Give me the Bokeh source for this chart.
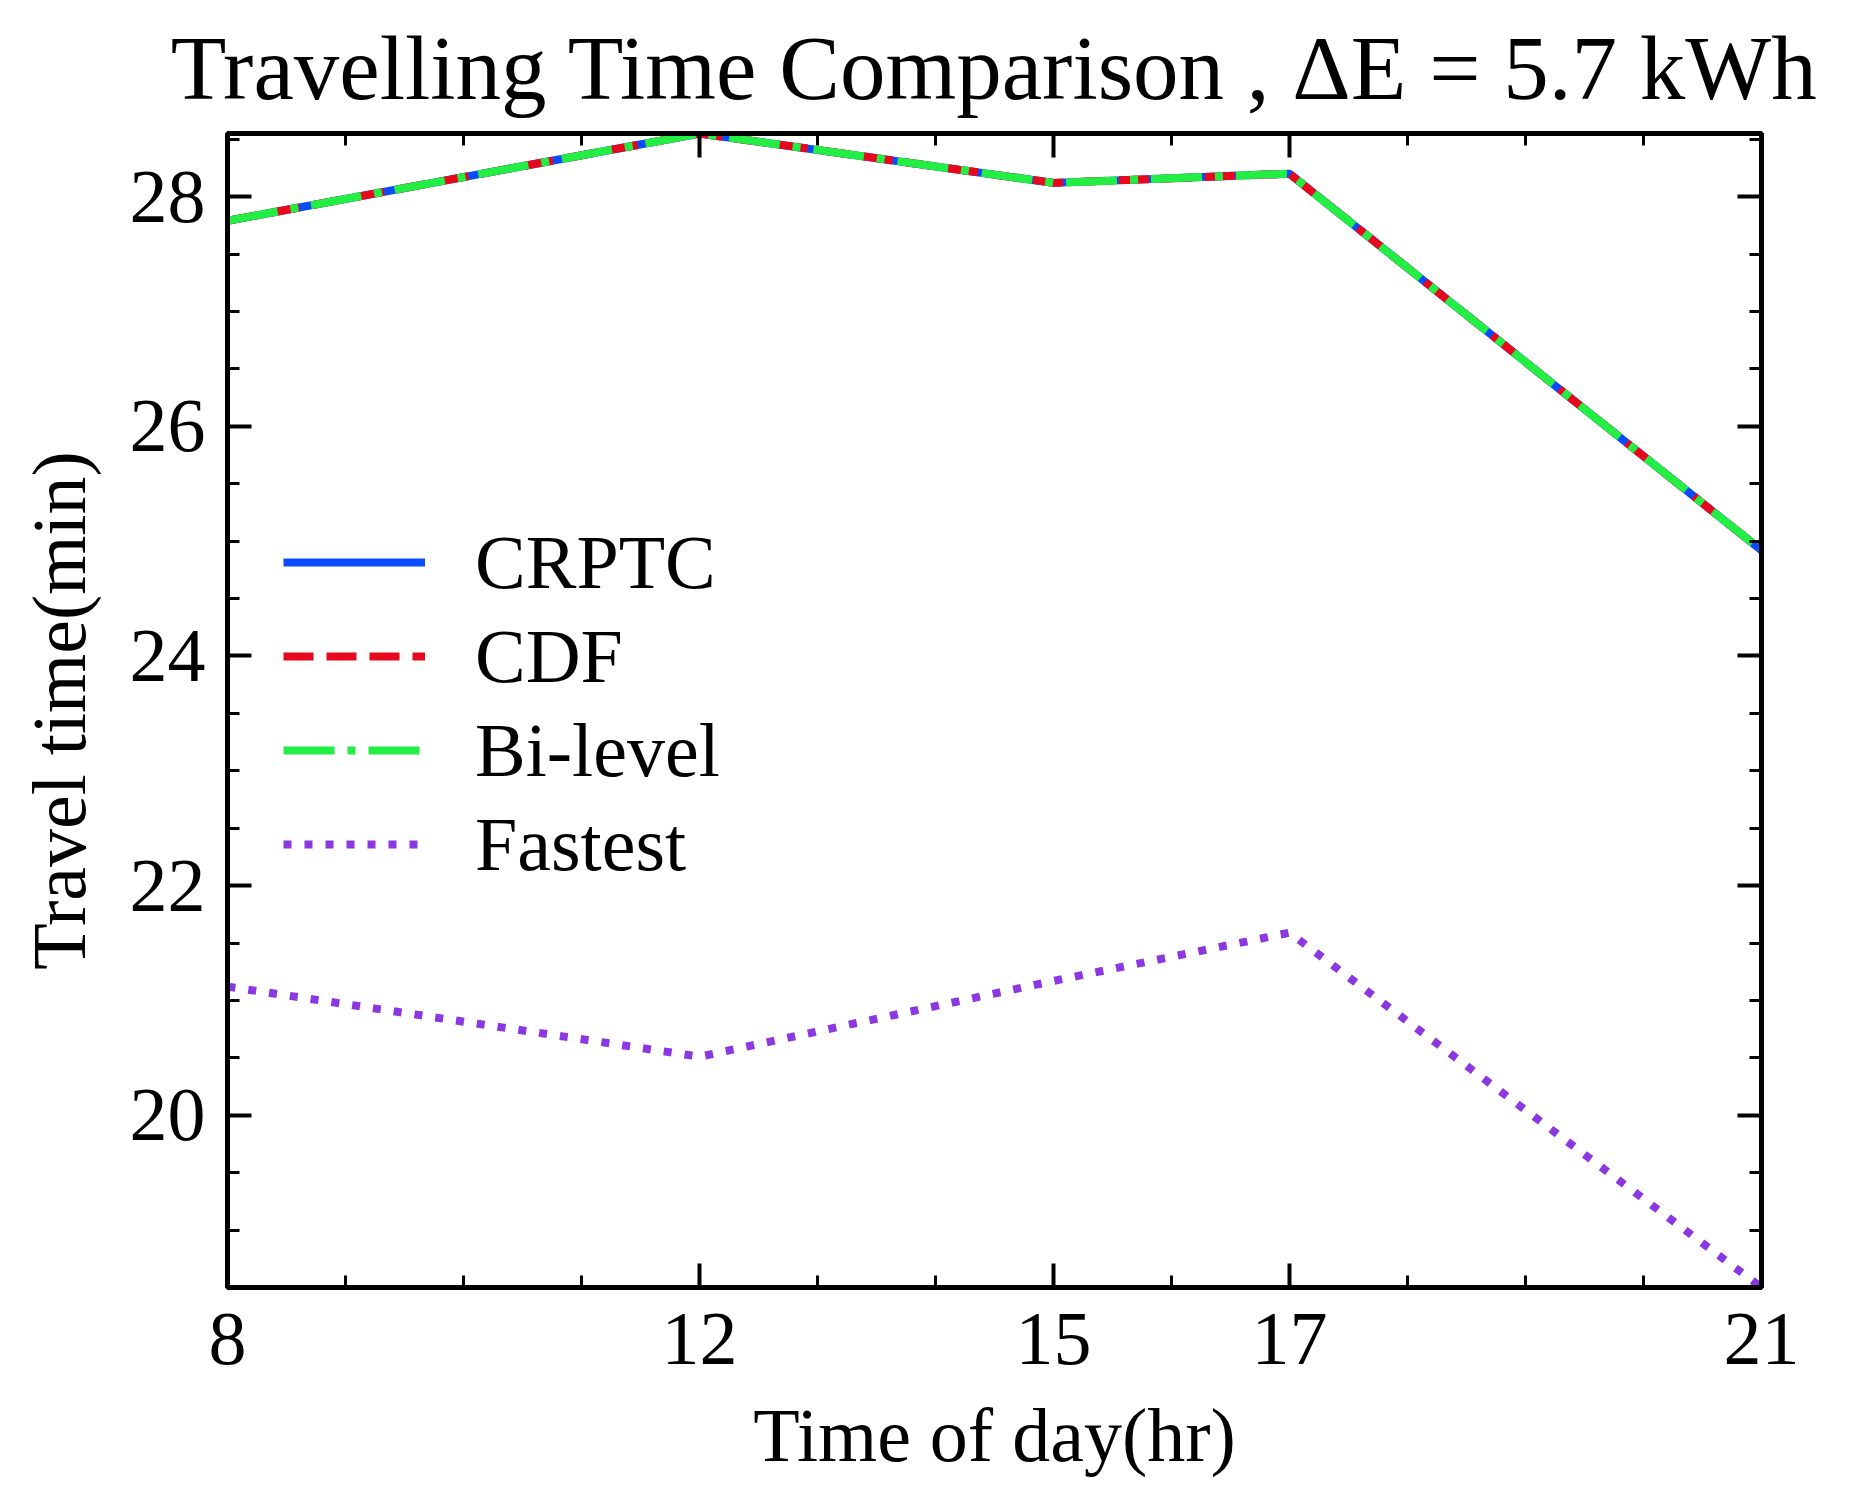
from bokeh.plotting import figure
from bokeh.models import (LinearAxis, FixedTicker, Range1d, Legend, LegendItem)
from bokeh.embed import file_html
from bokeh.resources import INLINE

# ---- data ----
hours = [8, 12, 15, 17, 21]
crptc = [27.79, 28.55, 28.12, 28.20, 24.92]
cdf = [27.79, 28.55, 28.12, 28.20, 24.92]
bilevel = [27.79, 28.55, 28.12, 28.20, 24.92]
fastest = [21.12, 20.51, 21.17, 21.59, 18.50]

x_major = [8, 12, 15, 17, 21]
x_minor = [9, 10, 11, 13, 14, 16, 18, 19, 20]
y_major = [20, 22, 24, 26, 28]
y_minor = [18.5, 19, 19.5, 20.5, 21, 21.5, 22.5, 23, 23.5, 24.5, 25, 25.5,
           26.5, 27, 27.5, 28.5]

title_text = "Travelling Time Comparison , \u0394E = 5.7 kWh"
x_label = "Time of day(hr)"
y_label = "Travel time(min)"

FONT = "Liberation Serif"
FS = "76px"

all_y = crptc + cdf + bilevel + fastest
p = figure(frame_width=1534, frame_height=1154,
           min_border_left=227, min_border_right=74,
           min_border_top=133, min_border_bottom=201,
           x_range=Range1d(min(hours), max(hours)),
           y_range=Range1d(min(all_y), max(all_y)),
           output_backend="svg", toolbar_location=None,
           x_axis_location=None, y_axis_location=None)
p.grid.visible = False
p.outline_line_color = "black"
p.outline_line_width = 5
p.background_fill_color = "white"
p.border_fill_color = "white"

p.title.text = title_text
p.title.text_font = FONT
p.title.text_font_size = "91px"
p.title.text_font_style = "normal"
p.title.text_color = "black"
p.title.align = "center"
p.title.standoff = 30


def style_axis(ax, major, minor, show_labels):
    ax.ticker = FixedTicker(ticks=major, minor_ticks=minor)
    ax.axis_line_color = "black"
    ax.axis_line_width = 5
    ax.major_tick_in = 24
    ax.major_tick_out = 0
    ax.minor_tick_in = 12
    ax.minor_tick_out = 0
    ax.major_tick_line_width = 4
    ax.minor_tick_line_width = 3
    ax.major_tick_line_color = "black"
    ax.minor_tick_line_color = "black"
    ax.major_label_text_font = FONT
    ax.major_label_text_color = "black"
    if show_labels:
        ax.major_label_text_font_size = FS
    else:
        ax.major_label_overrides = {t: "" for t in major}
        ax.major_label_text_font_size = "1px"
        ax.major_label_standoff = 0
    ax.axis_label_text_font = FONT
    ax.axis_label_text_font_size = FS
    ax.axis_label_text_font_style = "normal"
    ax.axis_label_text_color = "black"


xb = LinearAxis(axis_label=x_label)
style_axis(xb, x_major, x_minor, True)
xb.major_label_standoff = 26
xb.axis_label_standoff = 26
p.add_layout(xb, "below")

yl = LinearAxis(axis_label=y_label)
style_axis(yl, y_major, y_minor, True)
yl.major_label_standoff = 22
yl.axis_label_standoff = 26
p.add_layout(yl, "left")

xt = LinearAxis()
style_axis(xt, x_major, x_minor, False)
p.add_layout(xt, "above")

yr = LinearAxis()
style_axis(yr, y_major, y_minor, False)
p.add_layout(yr, "right")

LW = 8
r1 = p.line(hours, crptc, line_color="#0B4BFA", line_width=LW)
r2 = p.line(hours, cdf, line_color="#E8081E", line_width=LW, line_dash="30 13")
r3 = p.line(hours, bilevel, line_color="#22EE44", line_width=LW,
            line_dash="51 13 8 13")
r4 = p.line(hours, fastest, line_color="#8B38E2", line_width=LW,
            line_dash="8 13")

legend = Legend(items=[
    LegendItem(label="CRPTC", renderers=[r1]),
    LegendItem(label="CDF", renderers=[r2]),
    LegendItem(label="Bi-level", renderers=[r3]),
    LegendItem(label="Fastest", renderers=[r4]),
], location=(56, 396))
legend.border_line_alpha = 0
legend.background_fill_alpha = 0
legend.padding = 0
legend.margin = 0
legend.spacing = 0
legend.glyph_width = 142
legend.glyph_height = 94
legend.label_height = 94
legend.label_standoff = 50
legend.label_text_font = FONT
legend.label_text_font_size = FS
legend.label_text_color = "black"
p.add_layout(legend, "center")

open("out.html", "w").write(file_html(p, INLINE))
